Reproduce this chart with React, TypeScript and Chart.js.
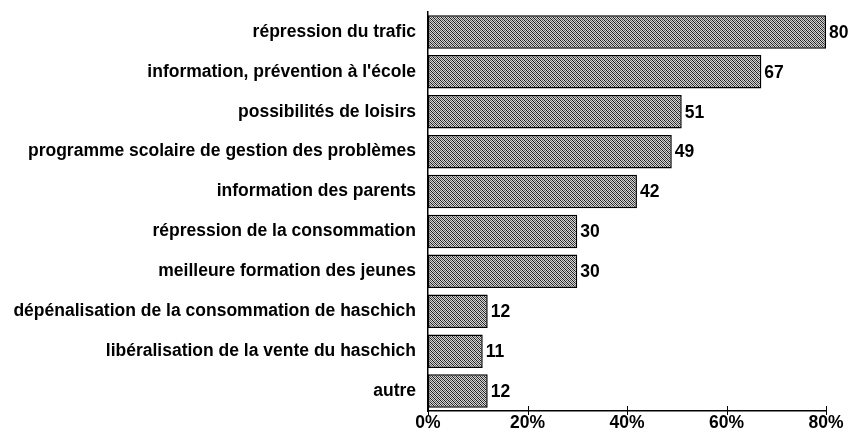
import React, { useEffect, useRef } from "react";
import { Chart, registerables } from "chart.js";

Chart.register(...registerables);

const categories = [
  "répression du trafic",
  "information, prévention à l'école",
  "possibilités de loisirs",
  "programme scolaire de gestion des problèmes",
  "information des parents",
  "répression de la consommation",
  "meilleure formation des jeunes",
  "dépénalisation de la consommation de haschich",
  "libéralisation de la vente du haschich",
  "autre",
];
const values = [80, 67, 51, 49, 42, 30, 30, 12, 11, 12];
const xTicks = [0, 20, 40, 60, 80];

const FONT = "'Liberation Sans', Arial, sans-serif";

function makePattern(): CanvasPattern | string {
  const c = document.createElement("canvas");
  c.width = 4;
  c.height = 4;
  const g = c.getContext("2d");
  if (!g) return "#999";
  g.fillStyle = "#d6d6d6";
  g.fillRect(0, 0, 4, 4);
  for (let i = 0; i < 4; i++) {
    g.fillStyle = "#1a1a1a";
    g.fillRect(i, i, 1, 1);
    g.fillStyle = "#5e5e5e";
    g.fillRect((i + 2) % 4, i, 1, 1);
  }
  const p = g.createPattern(c, "repeat");
  return p || "#999";
}

const valueLabels = {
  id: "valueLabels",
  afterDatasetsDraw(chart: any) {
    const ctx = chart.ctx;
    const meta = chart.getDatasetMeta(0);
    const data = chart.data.datasets[0].data as number[];
    ctx.save();
    ctx.fillStyle = "#000";
    ctx.font = `bold 17.5px ${FONT}`;
    ctx.textAlign = "left";
    ctx.textBaseline = "middle";
    meta.data.forEach((bar: any, i: number) => {
      ctx.fillText(String(data[i]), bar.x + 3, bar.y + 1);
    });
    ctx.restore();
  },
};

const crossTicks = {
  id: "crossTicks",
  afterDraw(chart: any) {
    const ctx = chart.ctx;
    const xs = chart.scales.x;
    const bottom = chart.chartArea.bottom;
    ctx.save();
    ctx.strokeStyle = "#000";
    ctx.lineWidth = 1;
    xs.ticks.forEach((t: any) => {
      const x = Math.round(xs.getPixelForValue(t.value)) + 0.5;
      ctx.beginPath();
      ctx.moveTo(x, bottom - 5);
      ctx.lineTo(x, bottom + 4);
      ctx.stroke();
    });
    ctx.restore();
  },
};

export default function App() {
  const ref = useRef<HTMLCanvasElement | null>(null);
  useEffect(() => {
    if (!ref.current) return;
    const chart = new Chart(ref.current, {
      type: "bar",
      data: {
        labels: categories,
        datasets: [
          {
            data: values,
            backgroundColor: makePattern() as any,
            borderColor: "#000",
            borderWidth: 1.5,
            borderSkipped: false,
            barPercentage: 0.84,
            categoryPercentage: 1,
          },
        ],
      },
      options: {
        indexAxis: "y",
        animation: false,
        responsive: false,
        maintainAspectRatio: false,
        layout: { padding: { top: 12, right: 26, bottom: 1, left: 0 } },
        plugins: {
          legend: { display: false },
          tooltip: { enabled: false },
          title: { display: false },
        },
        scales: {
          x: {
            min: 0,
            max: 80,
            afterBuildTicks: (s: any) => {
              s.ticks = xTicks.map((v) => ({ value: v }));
            },
            ticks: {
              callback: (v: any) => `${v}%`,
              color: "#000",
              font: { family: FONT, size: 17.5, weight: "bold" },
              padding: 2,
              maxRotation: 0,
            },
            grid: { display: false, drawTicks: false },
            border: { display: true, color: "#000", width: 1.5 },
          },
          y: {
            afterFit: (s: any) => {
              s.width = 428;
              s.paddingTop = 0;
              s.paddingBottom = 0;
            },
            ticks: {
              color: "#000",
              font: { family: FONT, size: 17.5, weight: "bold" },
              padding: 12,
              autoSkip: false,
            },
            grid: { display: false, drawTicks: false },
            border: { display: true, color: "#000", width: 1.5 },
          },
        },
      },
      plugins: [valueLabels, crossTicks],
    });
    return () => chart.destroy();
  }, []);
  return (
    <div style={{ position: "fixed", left: 0, top: 0, width: 852, height: 437, background: "#fff" }}>
      <canvas ref={ref} width={852} height={437} style={{ width: 852, height: 437 }} />
    </div>
  );
}
